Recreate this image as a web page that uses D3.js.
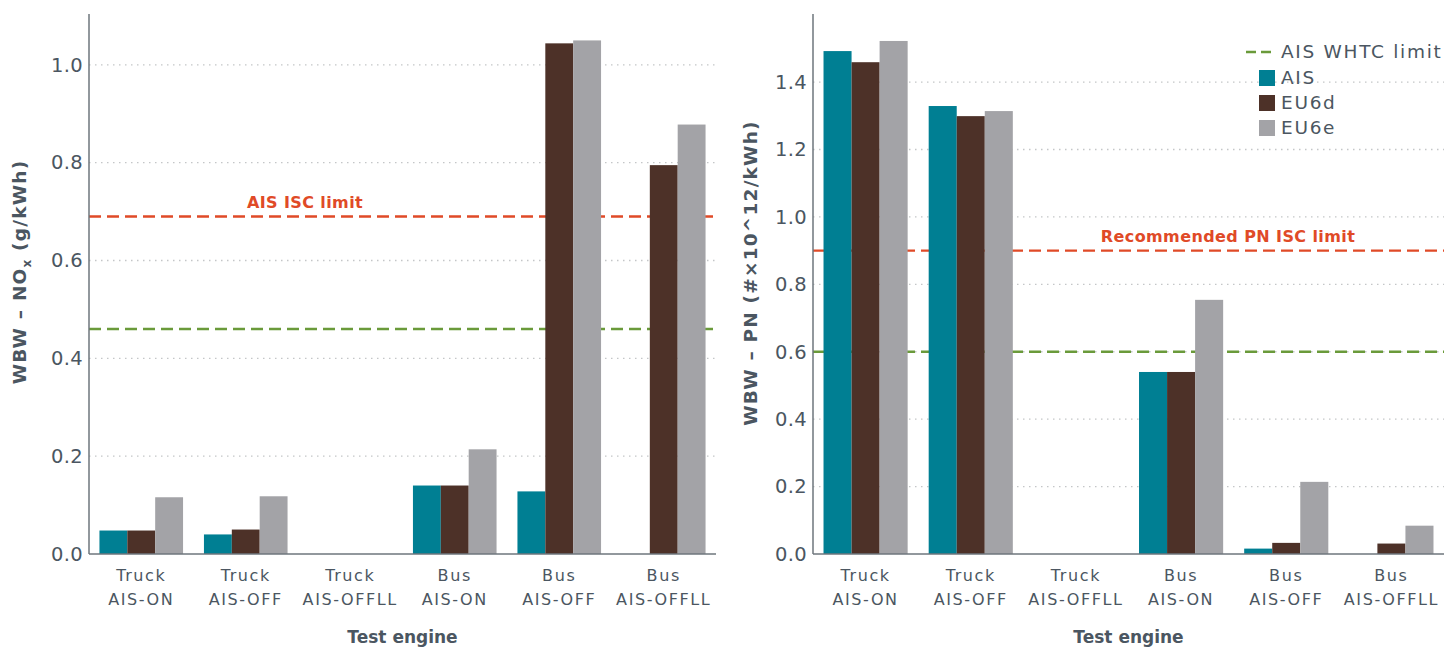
<!DOCTYPE html>
<html>
<head>
<meta charset="utf-8">
<script src="https://cdn.jsdelivr.net/npm/d3@7"></script>
<style>
  html, body { margin: 0; padding: 0; background: #ffffff; }
  svg { display: block; font-family: "DejaVu Sans", "Noto Sans", sans-serif; }
</style>
</head>
<body>
<svg id="chart" width="1447" height="648"></svg>
<script>
// Test engines (category label: top line / bottom line)
const categories = ["Truck AIS-ON", "Truck AIS-OFF", "Truck AIS-OFFLL", "Bus AIS-ON", "Bus AIS-OFF", "Bus AIS-OFFLL"];
const seriesNames = ["AIS", "EU6d", "EU6e"];
const seriesColors = ["#007f93", "#4d3128", "#a3a3a7"];

// Work-based-window NOx, g/kWh
const noxAIS  = [0.048, 0.040, null, 0.140, 0.128, null];
const noxEU6d = [0.048, 0.050, null, 0.140, 1.044, 0.795];
const noxEU6e = [0.116, 0.118, null, 0.214, 1.050, 0.878];
const noxTicks = [0.0, 0.2, 0.4, 0.6, 0.8, 1.0];
const noxISC = 0.69;
const noxWHTC = 0.46;

// Work-based-window PN, #x10^12/kWh
const pnAIS  = [1.492, 1.329, null, 0.540, 0.016, null];
const pnEU6d = [1.459, 1.299, null, 0.540, 0.033, 0.031];
const pnEU6e = [1.522, 1.314, null, 0.754, 0.214, 0.084];
const pnTicks = [0.0, 0.2, 0.4, 0.6, 0.8, 1.0, 1.2, 1.4];
const pnISC = 0.9;
const pnWHTC = 0.6;

const textColor = "#4b5661";
const axisColor = "#6e767d";
const redColor = "#e04a27";
const greenColor = "#6a9a3a";

const svg = d3.select("#chart");

function drawPanel(opts) {
  const { left, right, top, bottom, yMax, ticks, series, isc, iscLabel, whtc, titleX } = opts;
  const g = svg.append("g");

  const x = d3.scaleBand().domain(categories).range([left, right]).paddingInner(0.2).paddingOuter(0.1);
  const x1 = d3.scaleBand().domain(seriesNames).range([0, x.bandwidth()]);
  const y = d3.scaleLinear().domain([0, yMax]).range([bottom, top]);

  // dotted horizontal gridlines
  g.append("g").selectAll("line")
    .data(ticks.filter(t => t > 0))
    .join("line")
    .attr("x1", left).attr("x2", right)
    .attr("y1", d => y(d)).attr("y2", d => y(d))
    .attr("stroke", "#c4c6c8").attr("stroke-width", 1.3)
    .attr("stroke-dasharray", "1.5,4.5");

  // limit lines
  g.append("line")
    .attr("x1", left).attr("x2", right)
    .attr("y1", y(whtc)).attr("y2", y(whtc))
    .attr("stroke", greenColor).attr("stroke-width", 2.4)
    .attr("stroke-dasharray", "12,6");
  g.append("line")
    .attr("x1", left).attr("x2", right)
    .attr("y1", y(isc)).attr("y2", y(isc))
    .attr("stroke", redColor).attr("stroke-width", 2.4)
    .attr("stroke-dasharray", "12,6");

  // bars
  const rows = [];
  categories.forEach((c, i) => {
    seriesNames.forEach((s, j) => {
      const v = series[j][i];
      if (v !== null && v !== undefined) rows.push({ c, s, v, color: seriesColors[j] });
    });
  });
  g.append("g").selectAll("rect")
    .data(rows)
    .join("rect")
    .attr("x", d => x(d.c) + x1(d.s))
    .attr("width", x1.bandwidth())
    .attr("y", d => y(d.v))
    .attr("height", d => y(0) - y(d.v))
    .attr("fill", d => d.color);

  // limit annotation
  g.append("text")
    .attr("x", opts.iscLabelX)
    .attr("y", y(isc) - 9)
    .attr("text-anchor", "middle")
    .attr("fill", redColor)
    .attr("font-size", 16)
    .attr("font-weight", 700)
    .attr("letter-spacing", 0.4)
    .text(iscLabel);

  // y axis
  const yAxis = d3.axisLeft(y).tickValues(ticks).tickFormat(d3.format(".1f")).tickSize(0).tickPadding(6);
  const ya = g.append("g").attr("transform", `translate(${left},0)`).call(yAxis);
  ya.select(".domain").attr("stroke", axisColor).attr("stroke-width", 1.5)
    .attr("d", `M0,${top}V${bottom}`);
  ya.selectAll("text").attr("fill", textColor).attr("font-size", 19.5)
    .attr("font-family", "\"DejaVu Sans\", sans-serif").attr("letter-spacing", 0.3);

  // x axis
  const xAxis = d3.axisBottom(x).tickSize(0).tickPadding(0).tickFormat("");
  const xa = g.append("g").attr("transform", `translate(0,${bottom})`).call(xAxis);
  xa.select(".domain").attr("stroke", axisColor).attr("stroke-width", 1.5)
    .attr("d", `M${left},0H${right}`);
  categories.forEach(c => {
    const parts = c.split(" ");
    const t = g.append("text")
      .attr("text-anchor", "middle")
      .attr("fill", textColor)
      .attr("font-size", 16)
      .attr("letter-spacing", 1.6);
    t.append("tspan").attr("x", x(c) + x.bandwidth() / 2).attr("y", bottom + 27).text(parts[0]);
    t.append("tspan").attr("x", x(c) + x.bandwidth() / 2).attr("y", bottom + 51).text(parts.slice(1).join(" "));
  });

  // axis titles
  g.append("text")
    .attr("x", (left + right) / 2)
    .attr("y", 643)
    .attr("text-anchor", "middle")
    .attr("fill", textColor)
    .attr("font-size", 17)
    .attr("font-weight", 700)
    .text("Test engine");

  const yt = g.append("text")
    .attr("transform", `translate(${titleX},${opts.titleY}) rotate(-90)`)
    .attr("text-anchor", "middle")
    .attr("fill", textColor)
    .attr("font-size", 18.5)
    .attr("font-weight", 700)
    .attr("letter-spacing", 1.2);
  opts.yTitle(yt);

  return { x, y };
}

drawPanel({
  left: 89, right: 716, top: 14, bottom: 554, yMax: 1.104,
  ticks: noxTicks, series: [noxAIS, noxEU6d, noxEU6e],
  isc: noxISC, whtc: noxWHTC, iscLabel: "AIS ISC limit", iscLabelX: 305,
  titleX: 26, titleY: 272,
  yTitle: t => {
    t.append("tspan").text("WBW – NO");
    t.append("tspan").attr("font-size", 12).attr("dy", 5).text("x");
    t.append("tspan").attr("dy", -5).text(" (g/kWh)");
  }
});

drawPanel({
  left: 813, right: 1444, top: 14, bottom: 554, yMax: 1.602,
  ticks: pnTicks, series: [pnAIS, pnEU6d, pnEU6e],
  isc: pnISC, whtc: pnWHTC, iscLabel: "Recommended PN ISC limit", iscLabelX: 1228,
  titleX: 757, titleY: 273,
  yTitle: t => t.text("WBW – PN (#×10^12/kWh)")
});

// legend
const legend = svg.append("g").attr("transform", "translate(1246,52)");
legend.append("line")
  .attr("x1", 0).attr("x2", 28).attr("y1", 0).attr("y2", 0)
  .attr("stroke", greenColor).attr("stroke-width", 2.4)
  .attr("stroke-dasharray", "10,5");
legend.append("text")
  .attr("x", 35).attr("y", 0).attr("dy", "0.35em")
  .attr("fill", textColor).attr("font-size", 18.5).attr("letter-spacing", 1.7)
  .text("AIS WHTC limit");
seriesNames.forEach((s, i) => {
  const yy = 26 + i * 25;
  legend.append("rect")
    .attr("x", 13).attr("y", yy - 8).attr("width", 16).attr("height", 16)
    .attr("fill", seriesColors[i]);
  legend.append("text")
    .attr("x", 35).attr("y", yy).attr("dy", "0.35em")
    .attr("fill", textColor).attr("font-size", 18.5).attr("letter-spacing", 1.7)
    .text(s);
});
</script>
</body>
</html>
